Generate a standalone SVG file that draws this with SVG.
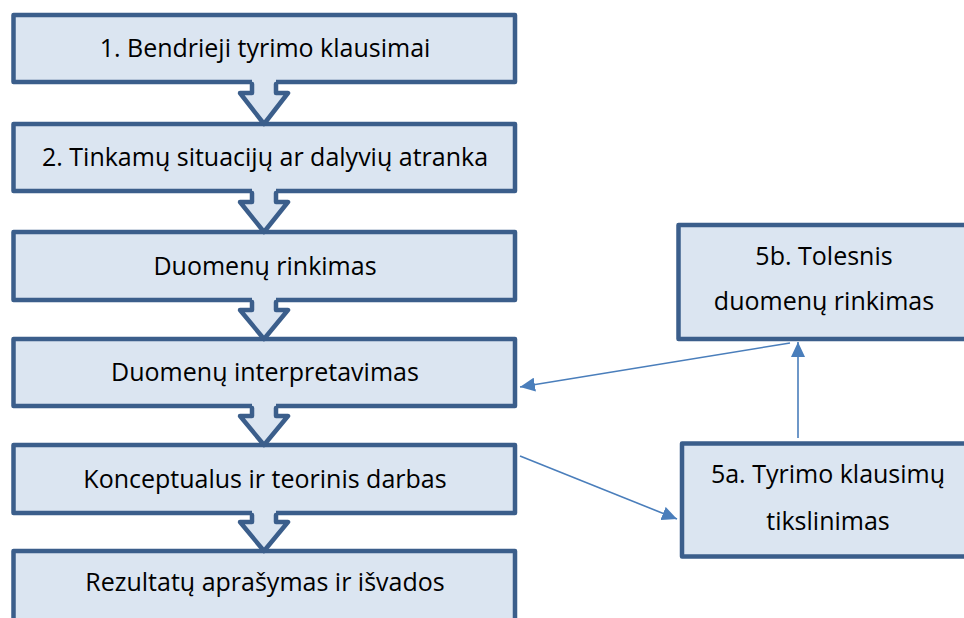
<svg xmlns="http://www.w3.org/2000/svg" width="964" height="618" viewBox="0 0 964 618">
<style>
.box{fill:#dbe5f1;stroke:#3b5e8b;stroke-width:4.5;stroke-linejoin:round}
.t{font-family:"Open Sans","Noto Sans","Liberation Sans",sans-serif;font-size:25px;fill:#000;text-anchor:middle}
.af{fill:#dbe5f1;stroke:none}
.as{fill:none;stroke:#3b5e8b;stroke-width:4.5;stroke-linejoin:round;stroke-linecap:round}
.c{fill:none;stroke:#4a7ebb;stroke-width:1.6}
</style>
<defs>
<marker id="ah" markerUnits="userSpaceOnUse" markerWidth="16" markerHeight="14" refX="15" refY="7" orient="auto">
<path d="M0,0 L15,7 L0,14 Z" fill="#4a7ebb"/>
</marker>
</defs>
<rect width="964" height="618" fill="#ffffff"/>
<g id="n1"><rect class="box" x="13.5" y="15" width="501.5" height="67"/><text class="t" x="265" y="57">1. Bendrieji tyrimo klausimai</text></g>
<g id="n2"><rect class="box" x="13.5" y="124" width="501.5" height="67"/><text class="t" x="265" y="166">2. Tinkamų situacijų ar dalyvių atranka</text></g>
<g id="n3"><rect class="box" x="13.5" y="232" width="501.5" height="68"/><text class="t" x="265" y="275">Duomenų rinkimas</text></g>
<g id="n4"><rect class="box" x="13.5" y="339" width="501.5" height="67"/><text class="t" x="265" y="381">Duomenų interpretavimas</text></g>
<g id="n5"><rect class="box" x="13.5" y="445" width="501.5" height="68"/><text class="t" x="265" y="488">Konceptualus ir teorinis darbas</text></g>
<g id="n6"><rect class="box" x="13.5" y="551" width="501.5" height="100"/><text class="t" x="265" y="591">Rezultatų aprašymas ir išvados</text></g>
<g id="n5b"><rect class="box" x="678.5" y="225" width="320" height="114"/><text class="t" x="824" y="265">5b. Tolesnis</text><text class="t" x="824" y="310">duomenų rinkimas</text></g>
<g id="n5a"><rect class="box" x="682" y="443.5" width="320" height="113"/><text class="t" x="828" y="483">5a. Tyrimo klausimų</text><text class="t" x="828" y="530">tikslinimas</text></g>
<g id="connectors">
<path class="af" d="M252,79 L252,93 L240,93 L264,124 L288,93 L276,93 L276,79 Z"/>
<path class="as" d="M252,84 L252,93 L240,93 L264,124 L288,93 L276,93 L276,84"/>
<path class="af" d="M252,188 L252,202 L240,202 L264,232 L288,202 L276,202 L276,188 Z"/>
<path class="as" d="M252,193 L252,202 L240,202 L264,232 L288,202 L276,202 L276,193"/>
<path class="af" d="M252,297 L252,310 L240,310 L264,339 L288,310 L276,310 L276,297 Z"/>
<path class="as" d="M252,302 L252,310 L240,310 L264,339 L288,310 L276,310 L276,302"/>
<path class="af" d="M252,403 L252,416 L240,416 L264,445 L288,416 L276,416 L276,403 Z"/>
<path class="as" d="M252,408 L252,416 L240,416 L264,445 L288,416 L276,416 L276,408"/>
<path class="af" d="M252,510 L252,522 L240,522 L264,551 L288,522 L276,522 L276,510 Z"/>
<path class="as" d="M252,515 L252,522 L240,522 L264,551 L288,522 L276,522 L276,515"/>
<line class="c" x1="790" y1="343" x2="520" y2="387" marker-end="url(#ah)"/>
<line class="c" x1="520" y1="456" x2="677" y2="519" marker-end="url(#ah)"/>
<line class="c" x1="798" y1="438" x2="798" y2="342" marker-end="url(#ah)"/>
</g>
</svg>
